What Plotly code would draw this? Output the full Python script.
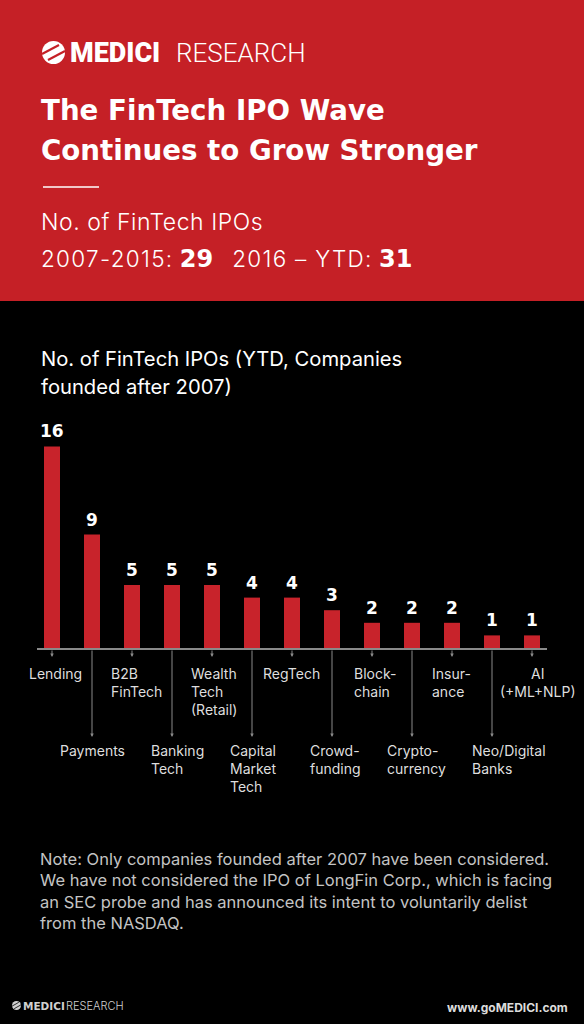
import plotly.graph_objects as go

# ---------------- data ----------------
categories = ["Lending", "Payments", "B2B<br>FinTech", "Banking<br>Tech", "Wealth<br>Tech<br>(Retail)",
              "Capital<br>Market<br>Tech", "RegTech", "Crowd-<br>funding", "Block-<br>chain",
              "Crypto-<br>currency", "Insur-<br>ance", "Neo/Digital<br>Banks", "AI<br>(+ML+NLP)"]
ipo_counts = [16, 9, 5, 5, 5, 4, 4, 3, 2, 2, 2, 1, 1]
count_2007_2015 = 29
count_2016_ytd = 31

# ---------------- layout helpers ----------------
W, H = 584, 1024
def px(x):
    return x / W
def py(y):
    return 1 - y / H

RED = "#C52026"
BAR = "#C8232B"
GREY_LINE = "#8a8a8a"
FONT = "Inter"
BOLD = "DejaVu Sans"

base_y = 648
unit_px = 12.6
y_max = 20
x_left, x_right = 37, 547

# label placement (layout only)
label_shift = [-25, -34, -23, -23, -23, -24, -31, -24, -20, -27, -22, -22, 6]
label_align = ["left"] * 12 + ["center"]

fig = go.Figure()
fig.add_trace(go.Bar(
    x=list(range(len(categories))), y=ipo_counts,
    marker=dict(color=BAR, line=dict(width=0)),
    width=0.4, hoverinfo="skip", showlegend=False,
))

shapes = []
annotations = []

# header block
shapes.append(dict(type="rect", xref="paper", yref="paper", x0=0, x1=1, y0=py(301), y1=1,
                   fillcolor=RED, line=dict(width=0), layer="below"))
# divider
shapes.append(dict(type="line", xref="paper", yref="paper", x0=px(43), x1=px(99), y0=py(187), y1=py(187),
                   line=dict(color="white", width=1.5)))
# logo circle (header)
shapes.append(dict(type="circle", xref="paper", yref="paper", x0=px(42), x1=px(65), y0=py(64), y1=py(41),
                   fillcolor="white", line=dict(width=0)))
for off in (-3, 3):
    shapes.append(dict(type="line", xref="paper", yref="paper",
                       x0=px(45 + off), y0=py(57 + off), x1=px(62 + off), y1=py(48 + off),
                       line=dict(color=RED, width=2.2)))
# footer logo circle
shapes.append(dict(type="circle", xref="paper", yref="paper", x0=px(12), x1=px(21), y0=py(1010), y1=py(1001),
                   fillcolor="#d0d0d0", line=dict(width=0)))
for off in (-1.2, 1.2):
    shapes.append(dict(type="line", xref="paper", yref="paper",
                       x0=px(13 + off), y0=py(1007.5 + off), x1=px(20 + off), y1=py(1003.5 + off),
                       line=dict(color="black", width=0.8)))

# header texts
annotations.append(dict(xref="paper", yref="paper", x=px(68), y=py(53), xanchor="left", yanchor="middle",
                        text="MEDICI", showarrow=False,
                        font=dict(family="Roboto", size=27, color="white", weight=900)))
annotations.append(dict(xref="paper", yref="paper", x=px(174), y=py(53), xanchor="left", yanchor="middle",
                        text="RESEARCH", showarrow=False,
                        font=dict(family="Roboto", size=26, color="white", weight=300)))
annotations.append(dict(xref="paper", yref="paper", x=px(39), y=py(110), xanchor="left", yanchor="middle",
                        text="<b>The FinTech IPO Wave</b>", showarrow=False,
                        font=dict(family=BOLD, size=27.7, color="white")))
annotations.append(dict(xref="paper", yref="paper", x=px(39), y=py(150), xanchor="left", yanchor="middle",
                        text="<b>Continues to Grow Stronger</b>", showarrow=False,
                        font=dict(family=BOLD, size=27.7, color="white")))
annotations.append(dict(xref="paper", yref="paper", x=px(39), y=py(222), xanchor="left", yanchor="middle",
                        text="<span style='letter-spacing:0.55px'>No. of FinTech IPOs</span>", showarrow=False,
                        font=dict(family=FONT, size=23, color="white", weight=300)))
num_style = "font-family:DejaVu Sans;font-size:24px;font-weight:bold;letter-spacing:0px"
lt_style = "letter-spacing:1.3px"
annotations.append(dict(xref="paper", yref="paper", x=px(39), y=py(259), xanchor="left", yanchor="middle",
                        text=("<span style='%s'>2007-2015:</span> <span style='%s'>%d</span>"
                              "&nbsp;&nbsp; <span style='%s'>2016 \u2013 YTD:</span> <span style='%s'>%d</span>")
                             % (lt_style, num_style, count_2007_2015, lt_style, num_style, count_2016_ytd),
                        showarrow=False,
                        font=dict(family=FONT, size=22.5, color="white", weight=300)))

# chart title
annotations.append(dict(xref="paper", yref="paper", x=px(39), y=py(358), xanchor="left", yanchor="middle",
                        text="No. of FinTech IPOs (YTD, Companies", showarrow=False,
                        font=dict(family=FONT, size=20.2, color="white")))
annotations.append(dict(xref="paper", yref="paper", x=px(39), y=py(386), xanchor="left", yanchor="middle",
                        text="founded after 2007)", showarrow=False,
                        font=dict(family=FONT, size=20.2, color="white")))

# value labels, ticks and category labels
for i, (cat, v) in enumerate(zip(categories, ipo_counts)):
    annotations.append(dict(xref="x", yref="y", x=i, y=v, xanchor="center", yanchor="bottom", yshift=3,
                            text="<b>%d</b>" % v, showarrow=False,
                            font=dict(family=BOLD, size=17, color="white")))
    lower = (i % 2 == 1)
    tick_end = 737 if lower else 657
    annotations.append(dict(xref="x", yref="paper", x=i, y=py(tick_end), text="", showarrow=True,
                            ax=0, ay=-(tick_end - base_y - 1), arrowhead=2, arrowsize=0.7,
                            arrowwidth=1, arrowcolor=GREY_LINE, standoff=0, startstandoff=0))
    top = 740 if lower else 663
    annotations.append(dict(xref="x", yref="paper", x=i, y=py(top), yanchor="top",
                            xanchor="left" if label_align[i] == "left" else "center",
                            align=label_align[i], xshift=label_shift[i],
                            text=cat, showarrow=False,
                            font=dict(family=FONT, size=14, color="#dedede")))

# note
annotations.append(dict(xref="paper", yref="paper", x=px(38), y=py(847), xanchor="left", yanchor="top",
                        align="left", showarrow=False,
                        text=("Note: Only companies founded after 2007 have been considered.<br>"
                              "We have not considered the IPO of LongFin Corp., which is facing<br>"
                              "an SEC probe and has announced its intent to voluntarily delist<br>"
                              "from the NASDAQ."),
                        font=dict(family=FONT, size=16.5, color="#c4c4c4")))

# footer
annotations.append(dict(xref="paper", yref="paper", x=px(21), y=py(1006), xanchor="left", yanchor="middle",
                        text="<b>MEDICI</b>", showarrow=False,
                        font=dict(family=BOLD, size=10.5, color="#d0d0d0")))
annotations.append(dict(xref="paper", yref="paper", x=px(64), y=py(1006), xanchor="left", yanchor="middle",
                        text="RESEARCH", showarrow=False,
                        font=dict(family=FONT, size=11, color="#d0d0d0", weight=300)))
annotations.append(dict(xref="paper", yref="paper", x=px(570), y=py(1007), xanchor="right", yanchor="middle",
                        text="<b>www.goMEDICI.com</b>", showarrow=False,
                        font=dict(family=FONT, size=12, color="#dcdcdc")))

pad = (13 * 40 - (x_right - x_left)) / 80.0  # trim so the axis line spans 37-547
fig.update_layout(
    width=W, height=H,
    margin=dict(l=0, r=0, t=0, b=0),
    paper_bgcolor="black", plot_bgcolor="rgba(0,0,0,0)",
    shapes=shapes, annotations=annotations,
    xaxis=dict(domain=[px(x_left), px(x_right)], range=[-0.5 + pad, 12.5 - pad],
               showgrid=False, zeroline=False, showticklabels=False, ticks="",
               showline=True, linecolor=GREY_LINE, linewidth=1.5, fixedrange=True),
    yaxis=dict(domain=[py(base_y), py(base_y - unit_px * y_max)], range=[0, y_max],
               showgrid=False, zeroline=False, showticklabels=False, showline=False, fixedrange=True),
    bargap=0.6,
    showlegend=False,
)

fig.write_html("out.html")
